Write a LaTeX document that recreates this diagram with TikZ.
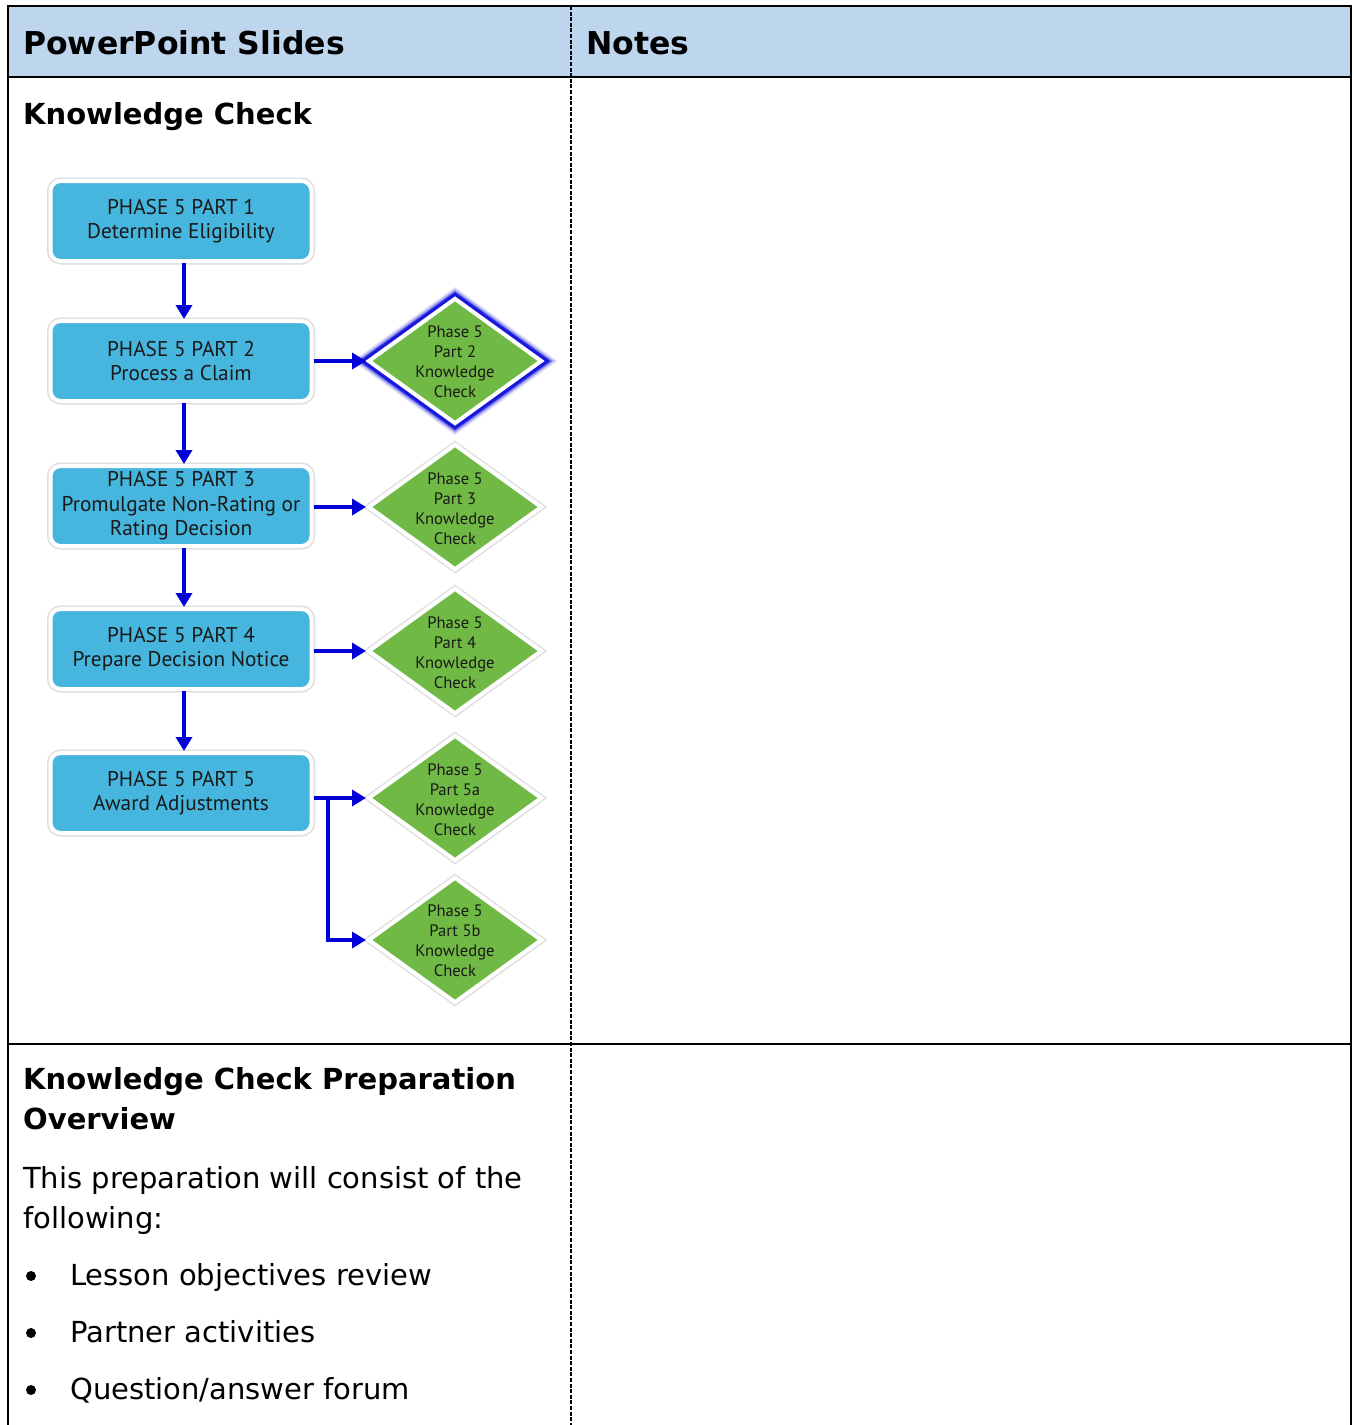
\documentclass[tikz,border=0pt]{standalone}
\usepackage{fontspec}
\setmainfont{DejaVu Sans}
\newfontfamily\diag{PT Sans}
\usetikzlibrary{shapes.geometric,arrows.meta,shadows,calc}
\definecolor{hdr}{RGB}{190,214,237}
\definecolor{boxc}{RGB}{70,182,222}
\definecolor{grn}{RGB}{112,185,68}
\definecolor{arrc}{RGB}{0,0,215}
\definecolor{txt}{RGB}{25,25,25}
\begin{document}
\begin{tikzpicture}[x=1pt,y=-1pt,
  rule/.style={line width=2.5pt,black},
  hd/.style={anchor=base west,inner sep=0pt,font=\bfseries\fontsize{29}{34}\selectfont},
  hdtop/.style={anchor=base west,inner sep=0pt,font=\bfseries\fontsize{31.5}{36}\selectfont},
  body/.style={anchor=base west,inner sep=0pt,font=\fontsize{29}{34}\selectfont},
  phase/.style={rounded corners=10pt,fill=boxc,draw=white,line width=4pt,
    minimum width=261pt,minimum height=80pt,inner sep=2pt,align=center,text=txt,
    font=\diag\fontsize{21.3}{24.5}\selectfont,
    drop shadow={shadow xshift=1pt,shadow yshift=-3pt,opacity=.22,fill=black},
    preaction={draw=black!13,line width=7pt}},
  kcbase/.style={diamond,fill=grn,draw=white,line width=4pt,minimum width=174pt,
    minimum height=126pt,inner sep=0pt},
  kc/.style={kcbase,
    drop shadow={shadow xshift=1.5pt,shadow yshift=-3pt,opacity=.2,fill=black},
    preaction={draw=black!12,line width=7pt}},
  kcglow/.style={kcbase,
    preaction={draw=arrc!12,line width=19pt},
    preaction={draw=arrc!30,line width=16pt},
    preaction={draw=arrc!60,line width=13pt},
    preaction={draw=arrc!90,line width=10.5pt}},
  kct/.style={align=center,inner sep=0pt,text=txt,font=\diag\fontsize{16.6}{20}\selectfont},
  arr/.style={draw=arrc,line width=4pt,-{Triangle[length=14pt,width=16pt]}}
]
\useasboundingbox (0,0) rectangle (1353,1425);
\fill[white] (0,0) rectangle (1353,1425);
% table
\fill[hdr] (8,6) rectangle (1351,77);
\draw[line width=1.6pt,dash pattern=on 4pt off 1.6pt] (571,6) -- (571,1425);
\draw[rule] (8,1425) -- (8,6) -- (1351,6) -- (1351,1425);
\draw[rule] (8,77) -- (1351,77);
\draw[rule] (8,1044) -- (1351,1044);
% headers
\node[hdtop] (h1) at (23,54) {PowerPoint Slides};
\node[hdtop] (h2) at (586,54) {Notes};
\node[hd] (kc) at (23,124) {Knowledge Check};
% boxes
\node[phase] (b1) at (181,221) {PHASE 5 PART 1\\Determine Eligibility};
\node[phase] (b2) at (181,361) {PHASE 5 PART 2\\Process a Claim};
\node[phase] (b3) at (181,506) {PHASE 5 PART 3\\Promulgate Non-Rating or\\Rating Decision};
\node[phase] (b4) at (181,649) {PHASE 5 PART 4\\Prepare Decision Notice};
\node[phase] (b5) at (181,793) {PHASE 5 PART 5\\Award Adjustments};
% diamonds
\node[kcglow] (d2) at (455,361) {};
\node[kc] (d3) at (455,507) {};
\node[kc] (d4) at (455,651) {};
\node[kc] (d5a) at (455,798) {};
\node[kc] (d5b) at (455,940) {};
\node[kct] (t2) at (455,362) {Phase 5\\Part 2\\Knowledge\\Check};
\node[kct] (t3) at (455,509) {Phase 5\\Part 3\\Knowledge\\Check};
\node[kct] (t4) at (455,653) {Phase 5\\Part 4\\Knowledge\\Check};
\node[kct] (t5a) at (455,800) {Phase 5\\Part 5a\\Knowledge\\Check};
\node[kct] (t5b) at (455,941) {Phase 5\\Part 5b\\Knowledge\\Check};
% arrows
\draw[arr] ([xshift=3pt]b1.south) -- ([xshift=3pt]b2.north);
\draw[arr] ([xshift=3pt]b2.south) -- ([xshift=3pt]b3.north);
\draw[arr] ([xshift=3pt]b3.south) -- ([xshift=3pt]b4.north);
\draw[arr] ([xshift=3pt]b4.south) -- ([xshift=3pt]b5.north);
\draw[arr] (b2.east) -- (d2.west);
\draw[arr] (b3.east |- d3) -- (d3.west);
\draw[arr] (b4.east |- d4) -- (d4.west);
\draw[arr] (b5.east |- d5a) -- (d5a.west);
\coordinate (j) at (328,798);
\draw[arr] (j) |- (d5b.west);
% bottom row
\node[hd] (p1) at (23,1089) {Knowledge Check Preparation};
\node[hd] (p2) at (23,1129) {Overview};
\node[body] (s1) at (23,1188) {This preparation will consist of the};
\node[body] (s2) at (23,1228) {following:};
\foreach \yy/\tt/\nm in {1285/Lesson objectives review/l1,1342/Partner activities/l2,1399/Question\slash answer forum/l3}{
  \fill (31,\yy-9) circle (5pt);
  \node[body] (\nm) at (70,\yy) {\tt};
}
\end{tikzpicture}
\end{document}
